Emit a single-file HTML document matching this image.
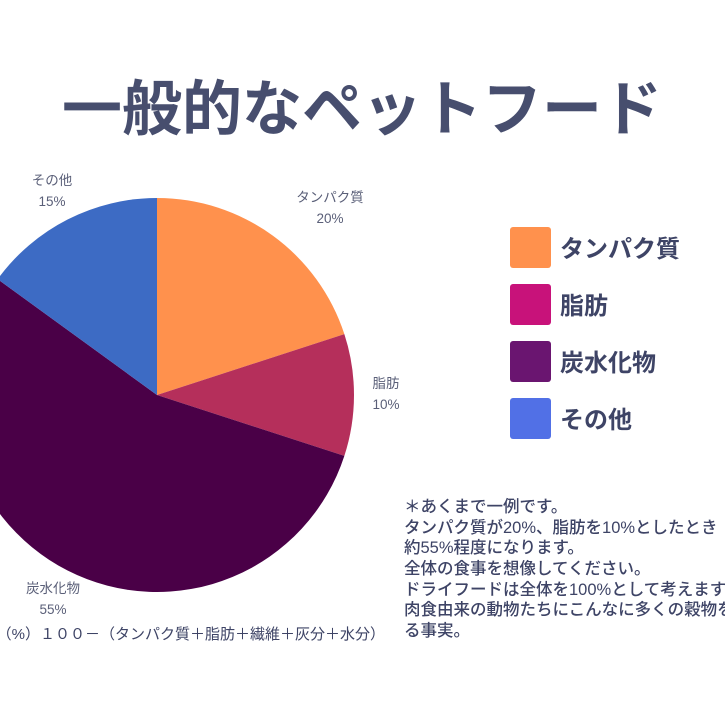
<!DOCTYPE html>
<html><head><meta charset="utf-8"><style>
html,body{margin:0;padding:0;background:#fff;overflow:hidden}
svg{display:block;font-family:"Liberation Sans","Noto Sans CJK JP",sans-serif}
</style></head><body>
<svg id="chart" width="725" height="725" viewBox="0 0 725 725">
<text x="362" y="130" text-anchor="middle" font-size="60" font-weight="bold" fill="#474E6E">一般的なペットフード</text>
<g id="slices"></g>
<g id="labels"></g>
<g id="legend"></g>
<g font-size="16.5" font-weight="500" fill="#3E4466">
<text x="404" y="512">＊あくまで一例です。</text>
<text x="404" y="533">タンパク質が20%、脂肪を10%としたとき</text>
<text x="404" y="553">約55%程度になります。</text>
<text x="404" y="574">全体の食事を想像してください。</text>
<text x="404" y="595">ドライフードは全体を100%として考えます</text>
<text x="404" y="615">肉食由来の動物たちにこんなに多くの穀物を</text>
<text x="404" y="636">る事実。</text>
</g>
<text x="385" y="639" text-anchor="end" font-size="15" fill="#3E4466">炭水化物（%）１００－（タンパク質＋脂肪＋繊維＋灰分＋水分）</text>
</svg>
<script>
const categories=["タンパク質","脂肪","炭水化物","その他"];
const values=[20,10,55,15];
const sliceColors=["#FF914D","#B52F5B","#4A0047","#3D6BC4"];
const legendColors=["#FF914D","#C8127A","#6A1570","#5170E6"];
const NS="http://www.w3.org/2000/svg";
const cx=157,cy=395,r=197;
const labelPos=[[330,202],[386,388],[53,593],[52,185]];
const total=values.reduce((a,b)=>a+b,0);
function pt(a){return [cx+r*Math.sin(a),cy-r*Math.cos(a)];}
let acc=0;
const sg=document.getElementById('slices'),lg=document.getElementById('labels'),leg=document.getElementById('legend');
values.forEach((v,i)=>{
  const a0=acc/total*2*Math.PI;acc+=v;const a1=acc/total*2*Math.PI;
  const [x0,y0]=pt(a0),[x1,y1]=pt(a1);
  const p=document.createElementNS(NS,'path');
  p.setAttribute('d',`M${cx},${cy}L${x0},${y0}A${r},${r} 0 ${a1-a0>Math.PI?1:0} 1 ${x1},${y1}Z`);
  p.setAttribute('fill',sliceColors[i]);
  
  
  sg.appendChild(p);
  const [lx,ly]=labelPos[i];
  [categories[i],v+"%"].forEach((s,k)=>{
    const t=document.createElementNS(NS,'text');
    t.setAttribute('x',lx);t.setAttribute('y',ly+k*21);
    t.setAttribute('text-anchor','middle');t.setAttribute('font-size','13.5');t.setAttribute('fill','#5A5F78');
    t.textContent=s;
    
    
    lg.appendChild(t);
  });
  const y=227+i*57;
  const rc=document.createElementNS(NS,'rect');
  rc.setAttribute('x',510);rc.setAttribute('y',y);rc.setAttribute('width',41);rc.setAttribute('height',41);rc.setAttribute('rx',3);
  rc.setAttribute('fill',legendColors[i]);
  
  
  leg.appendChild(rc);
  const lt=document.createElementNS(NS,'text');
  lt.setAttribute('x',560);lt.setAttribute('y',y+30);lt.setAttribute('font-size','24');lt.setAttribute('font-weight','bold');lt.setAttribute('fill','#3E4466');
  lt.textContent=categories[i];
  
  
  leg.appendChild(lt);
});
</script>
</body></html>
